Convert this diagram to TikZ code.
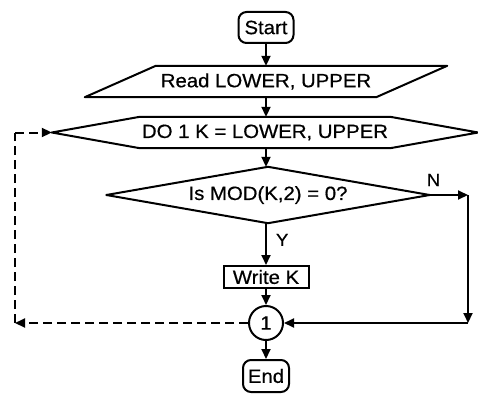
\documentclass[tikz,border=0pt]{standalone}
\usepackage{fontspec}
\setmainfont{Liberation Sans}[FakeStretch=1.06,FakeBold=0.6]
\usetikzlibrary{arrows.meta,calc}

\begin{document}
\begin{tikzpicture}[x=1pt,y=-1pt,
  every node/.style={font=\fontsize{19.2}{21}\selectfont, inner sep=0pt},
  line/.style={line width=2pt},
  flow/.style={line, -{Triangle[length=10pt,width=9pt]}},
  back/.style={line, dash pattern=on 9pt off 5pt},
  backflow/.style={back, -{Triangle[length=10pt,width=9pt]}},
  outline/.style={line, line join=round},
  terminal/.style={draw, line width=2pt, rounded corners=8pt},
  blank/.style={draw=none},
  tag/.style={font=\fontsize{17.5}{19}\selectfont}
]
\useasboundingbox (0,0) rectangle (478,393);

% terminals
\node[terminal, minimum width=55pt, minimum height=31pt] (start) at (266,27.5) {Start};
\node[terminal, minimum width=46pt, minimum height=32pt] (end) at (266,376) {End};

% input box (parallelogram)
\node[blank, minimum width=362pt, minimum height=31pt] (read) at (266,81.5) {Read LOWER, UPPER};
\draw[outline] (read.south west) -- ($(read.north west)+(71,0)$) -- (read.north east)
  -- ($(read.south east)-(71,0)$) -- cycle;

% loop box (hexagon)
\node[blank, minimum width=426pt, minimum height=31pt] (loop) at (265,132.5) {DO 1 K = LOWER, UPPER};
\draw[outline] (loop.west) -- ($(loop.north west)+(88,0)$) -- ($(loop.north east)-(88,0)$)
  -- (loop.east) -- ($(loop.south east)-(88,0)$) -- ($(loop.south west)+(88,0)$) -- cycle;

% decision (diamond)
\node[blank, minimum width=323pt, minimum height=56pt] (test) at (268,195) {Is MOD(K,2) = 0?};
\draw[outline] (test.west) -- (test.north) -- (test.east) -- (test.south) -- cycle;

% output box
\node[draw, line width=2pt, minimum width=85pt, minimum height=22pt] (write) at (266,277) {Write K};

% connector
\node[draw, circle, line width=2pt, minimum size=34pt] (conn) at (266,323) {1};

% route points
\coordinate (nA) at (468,195);
\coordinate (nB) at (468,323);
\coordinate (dA) at (15,323);
\coordinate (dB) at (15,132.5);

% main flow
\draw[flow] (start.south) -- (read.north -| start.south);
\draw[flow] (read.south -| start.south) -- (loop.north -| start.south);
\draw[flow] (loop.south -| start.south) -- (test.north -| start.south);
\draw[flow] (test.south -| write.north) -- node[tag, right=9pt, pos=0.4] {Y} (write.north);
\draw[flow] (write.south) -- (conn.north);
\draw[flow] (conn.south) -- (end.north);

% "no" branch
\draw[flow] (test.east) -- node[tag, above=8pt, pos=0.1] {N} (nA);
\draw[flow] (nA) -- (nB);
\draw[flow] (nB) -- (conn.east);

% loop return
\draw[backflow] (conn.west) -- (dA);
\draw[back] (dA) -- (dB);
\draw[backflow] (dB) -- (loop.west);
\end{tikzpicture}
\end{document}
